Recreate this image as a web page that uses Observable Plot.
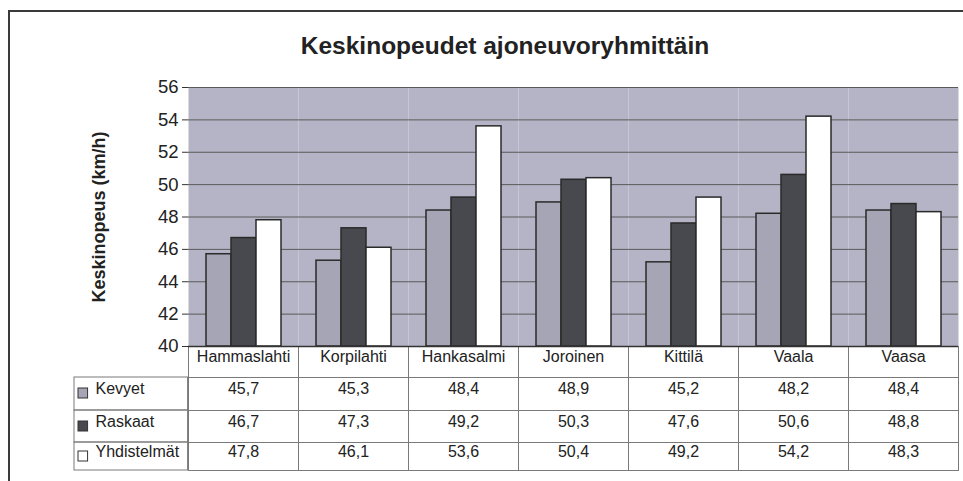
<!DOCTYPE html>
<html><head><meta charset="utf-8">
<script src="https://cdn.jsdelivr.net/npm/d3@7"></script>
<script src="https://cdn.jsdelivr.net/npm/@observablehq/plot@0.6"></script>
<style>
body{margin:0;background:#fff;}
#wrap{position:relative;width:963px;height:481px;overflow:hidden;font-family:"Liberation Sans",Arial,sans-serif;color:#222;}
#box{position:absolute;left:8px;top:10px;width:1200px;height:800px;border-top:2px solid #3a3a3a;border-left:2px solid #3a3a3a;}
#title{position:absolute;left:0;top:30px;width:1010px;text-align:center;font-weight:bold;font-size:24.5px;line-height:32px;color:#222;}
#chart{position:absolute;left:0;top:70px;}
</style></head><body>
<div id="wrap"><div id="box"></div><div id="title">Keskinopeudet ajoneuvoryhmittäin</div><div id="chart"></div></div>
<script>
const categories = ["Hammaslahti", "Korpilahti", "Hankasalmi", "Joroinen", "Kittilä", "Vaala", "Vaasa"];
const series = ["Kevyet", "Raskaat", "Yhdistelmät"];
const kevyet = [45.7, 45.3, 48.4, 48.9, 45.2, 48.2, 48.4];
const raskaat = [46.7, 47.3, 49.2, 50.3, 47.6, 50.6, 48.8];
const yhdistelmat = [47.8, 46.1, 53.6, 50.4, 49.2, 54.2, 48.3];
const yTicks = [40, 42, 44, 46, 48, 50, 52, 54, 56];
const yLabel = "Keskinopeus (km/h)";

const seriesValues = [kevyet, raskaat, yhdistelmat];
const rows = series.flatMap((s, j) => categories.map((c, i) => ({city: c, series: s, value: seriesValues[j][i]})));
const fmt = v => v.toFixed(1).replace(".", ",");

const W = 963, H = 411, mt = 17, mb = 135, ml = 186, mr = 4;
const colW = (W - ml - mr) / categories.length;
const plotH = H - mt - mb;
const colors = ["#a5a5b5", "#48484f", "#ffffff"];
const rowEdges = [0, 31, 64, 96, 124];
const rowText = [15, 47, 80, 110];
const tableLeft = 72;
const gridCol = "#7a7a7a";
const first = [categories[0]];

const marks = [];
marks.push(Plot.frame({fill: "#b4b4c6", stroke: null}));
marks.push(Plot.ruleY(yTicks, {stroke: "#5a5a5a", strokeWidth: 1}));
// table grid per column
for (let r = 0; r < 4; r++) {
  marks.push(Plot.frame({stroke: gridCol, fill: "none", insetTop: plotH + rowEdges[r], insetBottom: -rowEdges[r + 1]}));
}
// row label column (left of the first column)
for (let r = 1; r < 4; r++) {
  marks.push(Plot.rect(first, {fx: d => d, stroke: gridCol, fill: "none", insetLeft: -(ml - tableLeft), insetRight: colW, insetTop: plotH + rowEdges[r], insetBottom: -rowEdges[r + 1]}));
}
// swatches + labels
series.forEach((s, j) => {
  const yc = rowText[j + 1];
  marks.push(Plot.rect(first, {fx: d => d, fill: colors[j], stroke: "#333", insetLeft: -(ml - 76), insetRight: colW + (ml - 86), insetTop: plotH + yc - 5, insetBottom: -(yc + 5)}));
  marks.push(Plot.text(first, {fx: d => d, text: () => s, frameAnchor: "bottom-left", textAnchor: "start", dx: -(ml - 93), dy: yc, fontSize: 16}));
  marks.push(Plot.text(rows.filter(d => d.series === s), {fx: "city", text: d => fmt(d.value), frameAnchor: "bottom", dy: yc, fontSize: 16}));
});
marks.push(Plot.text(categories, {fx: d => d, text: d => d, frameAnchor: "bottom", dy: rowText[0], fontSize: 16}));
// bars
marks.push(Plot.barY(rows, {fx: "city", x: "series", y1: () => yTicks[0], y2: "value", fill: "series", stroke: "#2a2a2a", strokeWidth: 1.5}));
marks.push(Plot.ruleY([yTicks[0]], {stroke: "#333", strokeWidth: 1.5}));
marks.push(Plot.ruleX(first, {fx: d => d, dx: -colW / 2, y1: yTicks[0], y2: yTicks[yTicks.length - 1], stroke: "#555"}));
marks.push(Plot.axisY(yTicks, {tickSize: 6, tickPadding: 4, fontSize: 18.5, label: null, stroke: "#333"}));
marks.push(Plot.text(first, {fx: d => d, text: () => yLabel, frameAnchor: "left", textAnchor: "middle", dx: -89, rotate: -90, fontWeight: "bold", fontSize: 18}));

const chart = Plot.plot({
  width: W, height: H,
  marginTop: mt, marginBottom: mb, marginLeft: ml, marginRight: mr,
  fx: {domain: categories, padding: 0, axis: null},
  x: {domain: series, axis: null, paddingInner: 0, paddingOuter: 0.69},
  y: {domain: [yTicks[0], yTicks[yTicks.length - 1]]},
  color: {domain: series, range: colors},
  style: {fontFamily: "'Liberation Sans', Arial, sans-serif", fontSize: "16px", color: "#222", background: "transparent", overflow: "visible"},
  marks
});
document.getElementById("chart").appendChild(chart);
</script>
</body></html>
